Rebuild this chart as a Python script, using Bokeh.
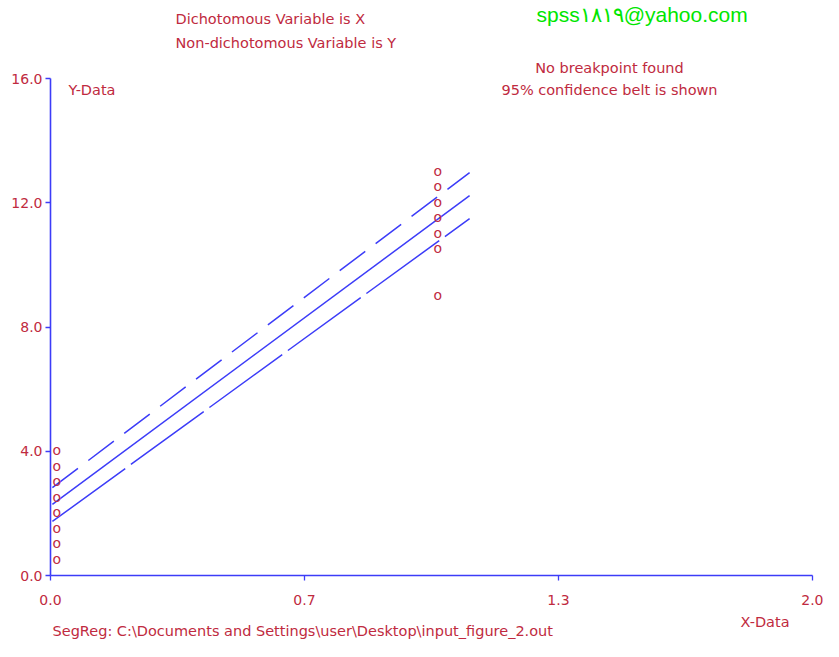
from bokeh.plotting import figure
from bokeh.layouts import column
from bokeh.models import Range1d, FixedTicker, NumeralTickFormatter, Label, ColumnDataSource
from bokeh.core.properties import value
from bokeh.embed import file_html
from bokeh.resources import INLINE

# ---- data ----
x_group0 = [0.0, 0.0, 0.0, 0.0, 0.0, 0.0, 0.0, 0.0]
y_group0 = [0.5, 1.0, 1.5, 2.0, 2.5, 3.0, 3.5, 4.0]
x_group1 = [1.0, 1.0, 1.0, 1.0, 1.0, 1.0, 1.0]
y_group1 = [9.0, 10.5, 11.0, 11.5, 12.0, 12.5, 13.0]

line_x = [0.005, 1.10]
fit_y = [2.29, 12.23]
upper_y = [2.83, 12.97]
lower_y = [1.74, 11.49]

x_tick_values = [0.0, 2 / 3, 4 / 3, 2.0]
y_tick_values = [0.0, 4.0, 8.0, 12.0, 16.0]
x_bounds = (0.0, 2.0)
y_bounds = (0.0, 16.0)

RED = "#c02a40"
BLUE = "#3c3cf8"
GREEN = "#00e600"
FONT = "DejaVu Sans"
TXT = "14.5px"

# ---- layout (pixels) ----
W = 823
H_MAIN, H_BOT = 613, 28
LEFT = 50            # x = 0 on the canvas
X2_PX = 812          # x = 2.0 on the canvas
AXIS_Y = 575         # y = 0 on the canvas
Y16_PX = 78          # y = 16 on the canvas
px_per_x = (X2_PX - LEFT) / (x_bounds[1] - x_bounds[0])
px_per_y = (AXIS_Y - Y16_PX) / (y_bounds[1] - y_bounds[0])

# the frame reaches the top and right edges so that the header texts are inside it;
# the axes are bounded to the data extent
p = figure(width=W, height=H_MAIN,
           x_range=Range1d(0, (W - LEFT) / px_per_x),
           y_range=Range1d(0, AXIS_Y / px_per_y),
           output_backend="svg", toolbar_location=None,
           min_border_left=LEFT, min_border_right=0, min_border_top=0,
           min_border_bottom=H_MAIN - AXIS_Y)
p.outline_line_color = None
p.xgrid.visible = False
p.ygrid.visible = False
p.background_fill_color = "white"
p.border_fill_color = "white"

for ax in (p.xaxis[0], p.yaxis[0]):
    ax.axis_line_color = BLUE
    ax.axis_line_width = 1.6
    ax.major_tick_line_color = BLUE
    ax.major_tick_line_width = 1.3
    ax.major_tick_in = 0
    ax.major_tick_out = 5
    ax.minor_tick_line_color = None
    ax.major_label_text_color = RED
    ax.major_label_text_font = FONT
    ax.major_label_text_font_size = "14px"
    ax.formatter = NumeralTickFormatter(format="0.0")

p.xaxis[0].ticker = FixedTicker(ticks=x_tick_values)
p.yaxis[0].ticker = FixedTicker(ticks=y_tick_values)
p.xaxis[0].bounds = x_bounds
p.yaxis[0].bounds = y_bounds
p.xaxis[0].major_label_standoff = 14
p.yaxis[0].major_label_standoff = 3

# regression line and 95% confidence belt
p.line(line_x, upper_y, line_color=BLUE, line_width=1.5, line_dash="32 13")
p.line(line_x, fit_y, line_color=BLUE, line_width=1.5)
p.line(line_x, lower_y, line_color=BLUE, line_width=1.5, line_dash="90 7")

# data points drawn as "o" characters
src = ColumnDataSource(dict(x=x_group0 + x_group1, y=y_group0 + y_group1,
                            t=["o"] * (len(x_group0) + len(x_group1))))
p.text(x="x", y="y", text="t", source=src, text_font=value(FONT), text_font_size="14px",
       text_color=RED, text_align="left", text_baseline="middle", x_offset=2, y_offset=-1)


def lab(text, x, y, align="left", color=RED, size=TXT, font=FONT, baseline="middle"):
    p.add_layout(Label(x=x, y=y, x_units="canvas", y_units="canvas", text=text,
                       text_align=align, text_baseline=baseline, text_color=color,
                       text_font=font, text_font_size=size))


lab("spss\u06f1\u06f8\u06f1\u06f9@yahoo.com", 536, 14, color=GREEN, size="21px",
    font="Liberation Sans", baseline="alphabetic")
lab("Dichotomous Variable is X", 175, 18)
lab("Non-dichotomous Variable is Y", 175, 42)
lab("No breakpoint found", 609, 67, align="center")
lab("95% confidence belt is shown", 609, 89, align="center")
lab("Y-Data", 68, 89)

# ---- footer (its frame is aligned with the main frame by the column layout) ----
bot = figure(width=W, height=H_BOT, x_range=Range1d(LEFT, W), y_range=Range1d(H_BOT, 0),
             output_backend="svg", toolbar_location=None,
             x_axis_location=None, y_axis_location=None,
             min_border_left=LEFT, min_border_right=0, min_border_top=0, min_border_bottom=0)
bot.outline_line_color = None
bot.xgrid.visible = False
bot.ygrid.visible = False
bot.border_fill_color = "white"
bot.background_fill_color = "white"
bot.text(x=[740], y=[8], text=["X-Data"], text_align="left", text_baseline="middle",
         text_color=RED, text_font=value(FONT), text_font_size=TXT)
bot.text(x=[52], y=[17], text=["SegReg: C:\\Documents and Settings\\user\\Desktop\\input_figure_2.out"],
         text_align="left", text_baseline="middle",
         text_color=RED, text_font=value(FONT), text_font_size=TXT)

layout = column(p, bot, spacing=0)
open("out.html", "w").write(file_html(layout, INLINE))
